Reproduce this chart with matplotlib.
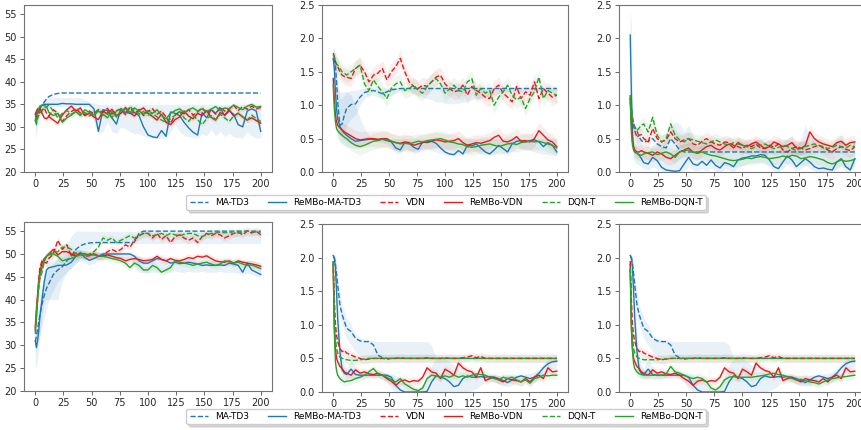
import numpy as np
import matplotlib
matplotlib.use("Agg")
import matplotlib.pyplot as plt

# shared x positions (episodes)
X = [0, 1, 2, 3, 4, 6, 8, 10] + list(range(12, 201, 4))

# ---------------- top-left ----------------
tl_mat_td3 = [32.5, 33.0, 33.3, 33.7, 34.0, 34.8, 35.5, 36.2,
              36.7, 37.2, 37.4] + [37.5] * 45
tl_rembo_mat_td3 = [31.3, 32.0, 33.0, 33.8, 34.3, 34.8, 35.0, 35.0,
                    35.0, 35.0, 35.0, 35.2, 35.1, 35.1, 35.0, 35.0,
                    35.0, 35.0, 34.0, 29.0, 33.8, 33.6, 32.0, 30.6,
                    34.0, 33.2, 33.0, 33.2, 32.5, 30.0, 28.2, 27.8,
                    27.6, 29.2, 27.9, 33.3, 33.0, 32.5, 31.0, 29.8,
                    28.8, 28.2, 33.2, 32.0, 33.8, 33.0, 34.2, 32.5,
                    33.5, 32.8, 30.5, 30.0, 33.5, 34.0, 33.5, 29.0]
tl_rembo_lo = [27.5, 28.5, 30.0, 31.5, 32.5, 33.5, 34.0, 34.2,
               34.3, 34.5, 34.5, 34.5, 34.5, 34.5, 34.5, 34.5,
               34.5, 34.5, 31.0, 28.5, 29.0, 31.0, 29.0, 28.5,
               30.0, 29.5, 29.0, 28.5, 28.5, 28.0, 27.6, 27.5,
               27.5, 27.5, 27.5, 29.0, 30.5, 29.0, 28.0, 27.8,
               27.6, 27.5, 28.5, 28.0, 29.5, 28.0, 29.0, 27.8,
               28.5, 27.8, 27.6, 27.5, 29.0, 28.0, 27.5, 27.5]
tl_rembo_hi = [33.0, 33.5, 34.0, 34.5, 35.0, 35.5, 36.0, 36.3,
               36.5, 36.5, 36.5, 36.5, 36.5, 36.5, 36.5, 36.5,
               36.0, 35.5, 35.2, 35.0, 35.0, 35.0, 35.0, 35.0] + [35.0] * 32
tl_vdn = [32.5, 32.0, 33.2, 33.5, 32.8, 33.6, 34.2, 33.0,
          32.4, 33.8, 33.0, 31.2, 32.5, 33.4, 34.0, 33.1,
          32.6, 33.5, 32.9, 33.8, 33.2, 34.1, 32.8, 33.6,
          33.9, 32.7, 34.3, 33.0, 33.8, 32.5, 33.4, 34.0,
          32.8, 33.5, 32.2, 30.8, 32.6, 33.4, 32.9, 33.8,
          32.6, 33.3, 34.2, 33.0, 33.9, 32.8, 34.4, 33.5,
          34.0, 34.8, 33.6, 34.5, 33.9, 34.6, 34.0, 34.3]
tl_rembo_vdn = [32.8, 33.5, 34.0, 33.2, 34.2, 33.0, 32.0, 31.8,
                32.3, 31.5, 30.8, 32.6, 33.8, 34.6, 33.5, 34.2,
                32.5, 33.0, 32.2, 31.6, 33.5, 32.8, 33.9, 32.5,
                33.0, 34.3, 33.1, 32.4, 33.6, 34.2, 33.0, 32.3,
                31.5, 32.8, 31.0, 30.5, 31.6, 32.2, 33.5, 32.4,
                31.8, 33.0, 32.5, 33.6, 32.1, 31.5, 33.2, 32.6,
                33.8, 32.4, 33.0, 32.2, 31.5, 32.0, 31.4, 30.8]
tl_dqn = [32.0, 31.0, 31.8, 32.5, 33.2, 33.8, 34.2, 34.5,
          34.8, 33.5, 32.0, 33.0, 33.6, 32.8, 33.4, 32.6,
          33.2, 32.4, 33.0, 33.8, 32.5, 33.2, 32.0, 33.5,
          34.0, 33.2, 34.5, 33.6, 32.8, 33.4, 32.6, 33.0,
          32.2, 31.5, 31.0, 31.8, 32.6, 33.4, 32.0, 31.2,
          32.5, 31.6, 30.5, 31.8, 32.5, 31.6, 32.8, 32.0,
          31.2, 32.4, 33.0, 32.2, 31.5, 32.6, 31.8, 31.2]
tl_rembo_dqn = [31.5, 30.5, 33.0, 34.0, 34.6, 34.8, 34.7, 34.5,
                33.2, 32.5, 33.0, 31.0, 32.0, 32.6, 33.4, 32.5,
                33.8, 33.2, 32.6, 33.5, 32.8, 32.0, 33.4, 32.2,
                33.6, 34.0, 33.2, 34.2, 33.5, 32.8, 33.6, 33.0,
                33.8, 32.5, 31.8, 33.0, 33.6, 34.0, 33.2, 33.8,
                34.2, 33.5, 34.0, 33.4, 33.9, 34.5, 33.6, 34.2,
                34.0, 34.8, 34.3, 33.8, 34.6, 35.0, 34.4, 34.5]

# ---------------- top-middle ----------------
tm_mat_td3 = [1.70, 1.68, 1.60, 1.35, 1.05, 0.70, 0.72, 0.85,
              0.95, 1.01, 1.02, 1.12, 1.19, 1.21, 1.22, 1.20,
              1.17, 1.20, 1.23, 1.24, 1.25] + [1.25] * 35
tm_mat_lo = [1.60, 1.50, 1.30, 1.00, 0.80, 0.55, 0.55, 0.60,
             0.70, 0.80, 0.85, 1.00, 1.10, 1.15, 1.15, 1.12,
             1.10, 1.12, 1.15, 1.18, 1.20, 1.20, 1.20, 1.18,
             1.15, 1.12, 1.10, 1.08, 1.05, 1.05, 1.03, 1.02,
             1.02, 1.03, 1.05, 1.05, 1.08, 1.10, 1.10, 1.12,
             1.15, 1.15, 1.18, 1.20, 1.20, 1.20, 1.20, 1.20] + [1.20] * 8
tm_mat_hi = [1.80, 1.80, 1.75, 1.60, 1.40, 1.10, 1.10, 1.15,
             1.20, 1.22, 1.22, 1.25, 1.25, 1.26, 1.26, 1.25] + [1.26] * 40
tm_rembo_mat_td3 = [1.70, 1.55, 1.20, 0.95, 0.80, 0.68, 0.62, 0.58,
                    0.55, 0.50, 0.46, 0.47, 0.48, 0.49, 0.49, 0.48,
                    0.49, 0.47, 0.45, 0.36, 0.33, 0.44, 0.43, 0.37,
                    0.34, 0.45, 0.44, 0.46, 0.43, 0.36, 0.30, 0.27,
                    0.26, 0.32, 0.27, 0.40, 0.39, 0.42, 0.36, 0.30,
                    0.27, 0.33, 0.40, 0.35, 0.30, 0.42, 0.46, 0.47,
                    0.45, 0.47, 0.48, 0.45, 0.38, 0.44, 0.40, 0.30]
tm_rembo_lo = [1.60, 1.30, 0.90, 0.70, 0.55, 0.45, 0.42, 0.40,
               0.38, 0.36, 0.35, 0.38, 0.42, 0.45, 0.46, 0.45,
               0.44, 0.42, 0.38, 0.28, 0.28, 0.35, 0.33, 0.30,
               0.30, 0.36, 0.35, 0.33, 0.30, 0.28, 0.26, 0.25,
               0.25, 0.25, 0.25, 0.30, 0.33, 0.30, 0.27, 0.26,
               0.25, 0.26, 0.30, 0.28, 0.26, 0.30, 0.35, 0.35,
               0.33, 0.32, 0.30, 0.28, 0.27, 0.26, 0.25, 0.25]
tm_rembo_hi = [1.80, 1.75, 1.60, 1.40, 1.25, 1.20, 1.20, 1.20,
               1.20, 1.15, 1.00, 0.80, 0.65, 0.55, 0.52, 0.50] + [0.50] * 40
tm_vdn = [1.78, 1.72, 1.65, 1.60, 1.58, 1.50, 1.45, 1.43,
          1.42, 1.40, 1.55, 1.60, 1.50, 1.35, 1.45, 1.48,
          1.55, 1.38, 1.50, 1.58, 1.70, 1.50, 1.35, 1.28,
          1.25, 1.30, 1.28, 1.35, 1.42, 1.45, 1.32, 1.25,
          1.20, 1.22, 1.30, 1.15, 1.28, 1.22, 1.18, 1.12,
          1.10, 1.25, 1.30, 1.18, 1.12, 1.05, 1.28, 1.10,
          1.20, 1.15, 1.35, 1.10, 1.25, 1.18, 1.12, 1.15]
tm_rembo_vdn = [1.40, 1.10, 0.85, 0.75, 0.70, 0.66, 0.63, 0.60,
                0.58, 0.54, 0.50, 0.48, 0.49, 0.50, 0.50, 0.49,
                0.50, 0.50, 0.46, 0.44, 0.43, 0.45, 0.44, 0.40,
                0.42, 0.44, 0.45, 0.46, 0.48, 0.47, 0.45, 0.46,
                0.47, 0.50, 0.44, 0.40, 0.42, 0.44, 0.43, 0.45,
                0.47, 0.52, 0.55, 0.46, 0.45, 0.48, 0.53, 0.46,
                0.47, 0.45, 0.50, 0.62, 0.55, 0.48, 0.45, 0.38]
tm_dqn = [1.75, 1.72, 1.68, 1.62, 1.60, 1.55, 1.50, 1.48,
          1.45, 1.50, 1.55, 1.60, 1.32, 1.22, 1.38, 1.28,
          1.20, 1.10, 1.25, 1.32, 1.35, 1.22, 1.25, 1.30,
          1.22, 1.18, 1.28, 1.35, 1.40, 1.32, 1.18, 1.24,
          1.30, 1.22, 1.20, 1.35, 1.40, 1.15, 1.25, 1.18,
          1.22, 1.00, 1.12, 1.20, 1.30, 1.15, 1.08, 1.12,
          0.95, 1.10, 1.20, 1.42, 1.10, 1.22, 1.18, 1.15]
tm_rembo_dqn = [1.30, 0.95, 0.75, 0.65, 0.62, 0.58, 0.55, 0.52,
                0.50, 0.44, 0.40, 0.38, 0.40, 0.43, 0.46, 0.47,
                0.49, 0.48, 0.46, 0.44, 0.42, 0.43, 0.42, 0.44,
                0.46, 0.45, 0.47, 0.48, 0.49, 0.50, 0.48, 0.45,
                0.44, 0.42, 0.41, 0.38, 0.37, 0.38, 0.40, 0.41,
                0.42, 0.40, 0.38, 0.40, 0.42, 0.43, 0.41, 0.44,
                0.45, 0.46, 0.45, 0.46, 0.44, 0.42, 0.40, 0.36]

# ---------------- top-right ----------------
tr_mat_td3 = [1.15, 0.95, 0.80, 0.72, 0.68, 0.62, 0.52, 0.47,
              0.45, 0.46, 0.50, 0.42, 0.38, 0.36, 0.50, 0.42,
              0.33, 0.30] + [0.30] * 38
tr_rembo_mat_td3 = [2.05, 1.20, 0.60, 0.35, 0.30, 0.28, 0.25, 0.20,
                    0.14, 0.12, 0.22, 0.17, 0.07, 0.03, 0.02, 0.01,
                    0.02, 0.12, 0.22, 0.12, 0.10, 0.16, 0.10, 0.18,
                    0.10, 0.06, 0.14, 0.12, 0.08, 0.18, 0.21, 0.22,
                    0.24, 0.24, 0.26, 0.25, 0.18, 0.08, 0.05, 0.15,
                    0.24, 0.18, 0.08, 0.14, 0.20, 0.15, 0.08, 0.05,
                    0.06, 0.04, 0.03, 0.15, 0.20, 0.08, 0.03, 0.20]
tr_rembo_lo = [1.70, 0.90, 0.40, 0.20, 0.15, 0.12, 0.10, 0.08,
               0.05, 0.03, 0.08, 0.05, 0.02, 0.00, 0.00, 0.00,
               0.00, 0.02, 0.08, 0.03, 0.02, 0.05, 0.02, 0.06,
               0.02, 0.00, 0.04, 0.03, 0.00, 0.06, 0.10, 0.12,
               0.14, 0.14, 0.15, 0.14, 0.08, 0.02, 0.00, 0.05,
               0.12, 0.08, 0.02, 0.05, 0.10, 0.05, 0.02, 0.00,
               0.00, 0.00, 0.00, 0.05, 0.10, 0.02, 0.00, 0.10]
tr_rembo_hi = [2.45, 2.20, 1.20, 0.70, 0.60, 0.55, 0.50, 0.45,
               0.35, 0.30, 0.40, 0.45, 0.40, 0.50, 0.65, 0.75,
               0.72, 0.60, 0.70, 0.55, 0.40, 0.50, 0.45, 0.50,
               0.40, 0.30, 0.45, 0.40, 0.35, 0.50, 0.45, 0.42,
               0.45, 0.48, 0.50, 0.45, 0.40, 0.35, 0.30, 0.45,
               0.50, 0.55, 0.40, 0.50, 0.70, 0.55, 0.45, 0.35,
               0.40, 0.30, 0.35, 0.50, 0.55, 0.40, 0.30, 0.50]
tr_vdn = [1.05, 0.90, 0.78, 0.70, 0.62, 0.52, 0.55, 0.56,
          0.50, 0.45, 0.65, 0.50, 0.45, 0.48, 0.60, 0.50,
          0.45, 0.48, 0.50, 0.42, 0.40, 0.46, 0.50, 0.45,
          0.42, 0.40, 0.45, 0.44, 0.40, 0.38, 0.35, 0.40,
          0.38, 0.42, 0.36, 0.35, 0.40, 0.37, 0.42, 0.33,
          0.30, 0.35, 0.38, 0.36, 0.33, 0.35, 0.38, 0.40,
          0.36, 0.33, 0.30, 0.35, 0.38, 0.34, 0.32, 0.38]
tr_rembo_vdn = [1.10, 0.70, 0.45, 0.38, 0.33, 0.30, 0.30, 0.32,
                0.30, 0.28, 0.25, 0.30, 0.27, 0.22, 0.20, 0.25,
                0.30, 0.33, 0.36, 0.30, 0.28, 0.33, 0.38, 0.40,
                0.35, 0.33, 0.38, 0.42, 0.36, 0.44, 0.40, 0.38,
                0.42, 0.45, 0.40, 0.35, 0.38, 0.45, 0.42, 0.38,
                0.40, 0.44, 0.36, 0.35, 0.40, 0.60, 0.50, 0.45,
                0.42, 0.40, 0.38, 0.44, 0.46, 0.40, 0.44, 0.45]
tr_dqn = [1.15, 0.95, 0.80, 0.70, 0.65, 0.62, 0.66, 0.70,
          0.72, 0.60, 0.82, 0.55, 0.45, 0.50, 0.72, 0.55,
          0.48, 0.45, 0.50, 0.48, 0.46, 0.44, 0.42, 0.45,
          0.48, 0.45, 0.42, 0.40, 0.44, 0.42, 0.40, 0.38,
          0.35, 0.38, 0.40, 0.42, 0.38, 0.35, 0.37, 0.40,
          0.38, 0.35, 0.32, 0.36, 0.38, 0.40, 0.42, 0.40,
          0.38, 0.35, 0.37, 0.40, 0.38, 0.36, 0.40, 0.38]
tr_rembo_dqn = [1.10, 0.60, 0.40, 0.33, 0.30, 0.28, 0.26, 0.25,
                0.27, 0.29, 0.30, 0.26, 0.28, 0.30, 0.27, 0.22,
                0.30, 0.32, 0.33, 0.30, 0.28, 0.30, 0.27, 0.25,
                0.24, 0.22, 0.20, 0.18, 0.17, 0.18, 0.19, 0.21,
                0.20, 0.22, 0.23, 0.22, 0.20, 0.21, 0.22, 0.24,
                0.22, 0.25, 0.24, 0.20, 0.21, 0.23, 0.22, 0.20,
                0.18, 0.14, 0.12, 0.15, 0.18, 0.16, 0.17, 0.19]

# ---------------- bottom-left ----------------
bl_mat_td3 = [30.8, 32.0, 33.5, 35.0, 36.5, 39.0, 41.0, 42.5,
              43.5, 45.5, 46.5, 47.2, 48.5, 49.5, 51.0, 51.8,
              52.2, 52.4, 52.5, 52.5, 52.5, 52.5, 52.5, 52.5,
              52.5, 52.5, 52.5, 52.6, 54.5, 55.0, 55.0, 55.0] + [55.0] * 24
bl_mat_lo = [28.0, 29.0, 30.0, 31.0, 32.0, 34.0, 36.0, 38.0,
             40.0, 42.0, 44.0, 45.0, 46.0, 47.0, 48.0, 49.0,
             50.0, 51.0, 52.0, 52.3] + [52.3] * 36
bl_mat_hi = [33.0, 35.0, 37.0, 39.0, 41.0, 43.0, 45.0, 46.0,
             47.0, 48.0, 49.0, 50.0, 52.0, 54.0, 55.0, 55.0] + [55.0] * 40
bl_rembo_mat_td3 = [31.0, 29.5, 31.0, 33.0, 36.0, 40.0, 44.0, 46.5,
                    47.0, 47.2, 47.5, 47.5, 47.6, 48.2, 49.5, 50.3,
                    49.2, 48.6, 49.0, 49.5, 50.0, 50.0, 50.0, 50.0,
                    50.0, 50.0, 50.0, 49.5, 48.5, 48.0, 48.0, 48.5,
                    49.0, 48.8, 48.5, 48.0, 48.2, 47.9, 48.0, 48.2,
                    48.0, 47.8, 47.5, 47.6, 47.5, 47.5, 47.6, 47.5,
                    48.0, 47.8, 47.5, 46.0, 48.0, 46.5, 46.0, 45.5]
bl_rembo_lo = [25.5, 25.0, 27.0, 29.0, 32.0, 36.0, 40.0, 40.0,
               40.0, 40.0, 40.0, 44.0, 46.0, 47.0, 48.0, 48.5,
               48.0, 47.5, 48.0, 48.5, 49.0, 49.0, 49.0, 49.0,
               49.0, 49.0, 49.0, 47.0, 46.0, 46.0, 46.0, 46.0,
               46.0, 46.2, 46.0, 46.0, 46.3, 46.0, 46.0, 46.2,
               46.0, 46.0, 46.2, 46.0, 46.0, 46.0, 46.2, 46.0,
               46.0, 46.0, 45.8, 45.5, 45.8, 45.5, 45.2, 45.0]
bl_rembo_hi = [34.0, 33.0, 34.0, 36.0, 39.0, 43.0, 46.0, 48.0,
               48.5, 48.5, 49.0, 49.5, 50.0, 50.5, 51.0, 51.0,
               50.5, 50.0, 50.2, 50.5, 50.5, 50.5, 50.5, 50.5,
               50.5, 50.5, 50.5, 50.0, 49.5, 49.2, 49.2, 49.5,
               49.5, 49.5, 49.3, 49.0, 49.0, 48.8, 48.8, 49.0,
               48.8, 48.6, 48.5, 48.5, 48.5, 48.5, 48.5, 48.5,
               48.6, 48.6, 48.5, 48.5, 48.6, 48.5, 48.3, 48.0]
bl_vdn = [33.0, 36.0, 40.0, 44.0, 47.0, 48.5, 48.2, 48.0,
          49.0, 50.0, 53.0, 51.0, 52.0, 49.5, 50.2, 50.0,
          49.5, 49.6, 50.0, 49.5, 49.6, 50.5, 51.0, 50.5,
          51.0, 52.0, 51.5, 53.0, 54.0, 54.5, 54.5, 53.5,
          54.5, 53.2, 54.0, 52.5, 53.8, 54.2, 53.5, 53.0,
          53.5, 52.5, 53.8, 54.5, 54.0, 54.5, 54.2, 53.5,
          54.0, 54.5, 54.8, 54.2, 55.0, 54.6, 55.0, 54.2]
bl_rembo_vdn = [34.0, 38.0, 41.0, 44.0, 46.0, 48.0, 49.0, 49.5,
                50.0, 51.0, 49.8, 50.5, 50.5, 50.0, 49.5, 50.0,
                50.0, 49.8, 50.0, 49.6, 49.5, 49.8, 49.5, 49.2,
                49.0, 48.5, 48.8, 49.0, 48.8, 48.5, 48.6, 48.8,
                49.5, 48.8, 48.5, 49.0, 48.6, 48.5, 48.8, 49.2,
                49.0, 49.5, 49.3, 49.6, 49.0, 48.5, 48.3, 48.2,
                48.5, 48.0, 48.5, 48.2, 48.0, 47.8, 47.6, 47.3]
bl_dqn = [32.5, 36.0, 39.5, 42.0, 44.5, 46.0, 48.5, 49.5,
          50.0, 50.3, 50.5, 51.5, 51.5, 51.0, 50.0, 50.0,
          49.5, 50.0, 50.5, 51.5, 53.5, 53.0, 53.5, 52.5,
          53.0, 53.5, 54.0, 53.5, 54.0, 54.5, 54.5, 54.0,
          54.2, 54.5, 54.0, 54.5, 54.2, 54.0, 54.3, 54.5,
          54.5, 54.0, 53.8, 54.2, 54.5, 54.6, 54.8, 54.6,
          54.8, 54.5, 54.6, 54.8, 55.0, 54.9, 54.8, 54.8]
bl_rembo_dqn = [33.5, 37.0, 40.0, 43.0, 45.0, 47.0, 48.5, 49.5,
                49.8, 50.0, 49.5, 48.5, 48.8, 49.0, 49.5, 49.8,
                49.8, 49.7, 49.8, 49.6, 49.5, 49.3, 49.0, 48.8,
                48.5, 48.0, 47.0, 48.0, 47.5, 46.5, 46.5, 47.5,
                47.0, 46.0, 46.5, 47.0, 48.5, 48.2, 48.0, 47.8,
                47.5, 47.8, 48.0, 48.2, 47.8, 47.5, 47.8, 48.5,
                48.3, 48.0, 48.2, 47.8, 47.5, 47.6, 47.2, 46.8]

# ---------------- bottom-middle / bottom-right (blue and red shared) ----------------
b_mat_td3 = [2.00, 2.00, 1.90, 1.75, 1.60, 1.30, 1.15, 1.05,
             0.95, 0.90, 0.80, 0.76, 0.75, 0.75, 0.70, 0.55,
             0.51, 0.50] + [0.50] * 38
b_mat_lo = [1.95, 1.95, 1.80, 1.60, 1.45, 1.10, 1.00, 0.90,
            0.80, 0.70, 0.60, 0.55, 0.50, 0.50, 0.50, 0.50] + [0.50] * 40
b_mat_hi = [2.05, 2.05, 2.00, 1.90, 1.70, 1.50, 1.30, 1.20,
            1.10, 1.00, 0.85, 0.80, 0.78, 0.78, 0.76, 0.75,
            0.75, 0.75, 0.75, 0.75, 0.75, 0.75, 0.75, 0.75,
            0.75, 0.75, 0.75, 0.70, 0.50, 0.50, 0.50, 0.50] + [0.50] * 24
b_rembo_mat_td3 = [2.03, 2.00, 1.85, 1.50, 1.10, 0.60, 0.33, 0.28,
                   0.26, 0.34, 0.26, 0.25, 0.25, 0.25, 0.25, 0.25,
                   0.25, 0.25, 0.22, 0.10, 0.03, 0.00, 0.00, 0.00,
                   0.00, 0.00, 0.01, 0.15, 0.24, 0.22, 0.20, 0.15,
                   0.08, 0.10, 0.20, 0.24, 0.22, 0.22, 0.23, 0.22,
                   0.23, 0.22, 0.20, 0.17, 0.14, 0.18, 0.22, 0.24,
                   0.22, 0.20, 0.22, 0.28, 0.36, 0.42, 0.45, 0.46]
b_rembo_lo = [1.95, 1.90, 1.60, 1.10, 0.70, 0.35, 0.22, 0.20,
              0.20, 0.22, 0.20, 0.20, 0.20, 0.22, 0.22, 0.22,
              0.20, 0.15, 0.05, 0.00, 0.00, 0.00, 0.00, 0.00,
              0.00, 0.00, 0.00, 0.00, 0.00, 0.00, 0.00, 0.00,
              0.00, 0.00, 0.00, 0.00, 0.02, 0.05, 0.10, 0.15,
              0.18, 0.15, 0.12, 0.10, 0.08, 0.10, 0.15, 0.18,
              0.18, 0.15, 0.15, 0.20, 0.25, 0.30, 0.35, 0.38]
b_rembo_hi = [2.10, 2.05, 2.00, 1.80, 1.50, 0.90, 0.50, 0.40,
              0.35, 0.50, 0.35, 0.30, 0.28, 0.28, 0.28, 0.28,
              0.28, 0.28, 0.27, 0.25, 0.20, 0.15, 0.10, 0.05,
              0.05, 0.10, 0.25, 0.40, 0.50, 0.50, 0.50, 0.45,
              0.40, 0.35, 0.30, 0.28, 0.26, 0.25, 0.25, 0.25,
              0.25, 0.25, 0.25, 0.25, 0.25, 0.25, 0.26, 0.27,
              0.27, 0.28, 0.30, 0.35, 0.42, 0.48, 0.50, 0.50]
b_vdn = [1.95, 1.40, 1.00, 0.85, 0.75, 0.65, 0.60, 0.62,
         0.58, 0.55, 0.52, 0.50, 0.48, 0.49, 0.50, 0.50,
         0.50, 0.49, 0.50, 0.50, 0.51, 0.50, 0.50, 0.50,
         0.50, 0.50, 0.51, 0.50, 0.50, 0.50, 0.51, 0.50,
         0.50, 0.50, 0.51, 0.52, 0.54, 0.51, 0.53, 0.50] + [0.50] * 16
b_rembo_vdn = [1.90, 1.00, 0.65, 0.50, 0.45, 0.38, 0.35, 0.30,
               0.28, 0.25, 0.33, 0.28, 0.30, 0.27, 0.26, 0.28,
               0.25, 0.20, 0.16, 0.10, 0.16, 0.18, 0.15, 0.17,
               0.16, 0.22, 0.36, 0.30, 0.28, 0.20, 0.34, 0.30,
               0.25, 0.43, 0.36, 0.32, 0.30, 0.22, 0.36, 0.17,
               0.20, 0.22, 0.18, 0.15, 0.20, 0.18, 0.17, 0.15,
               0.20, 0.15, 0.22, 0.25, 0.20, 0.36, 0.30, 0.31]
bm_dqn = [1.95, 1.20, 0.80, 0.65, 0.58, 0.52, 0.50, 0.49,
          0.48, 0.47, 0.47, 0.48, 0.49, 0.50, 0.50, 0.50] + [0.50] * 40
bm_rembo_dqn = [1.90, 0.90, 0.45, 0.32, 0.25, 0.20, 0.17, 0.15,
                0.16, 0.17, 0.20, 0.22, 0.25, 0.30, 0.35, 0.27,
                0.25, 0.22, 0.18, 0.15, 0.20, 0.12, 0.08, 0.04,
                0.02, 0.06, 0.20, 0.25, 0.24, 0.22, 0.24, 0.22,
                0.25, 0.22, 0.24, 0.22, 0.25, 0.27, 0.26, 0.25,
                0.22, 0.20, 0.18, 0.22, 0.20, 0.22, 0.18, 0.15,
                0.18, 0.13, 0.20, 0.22, 0.25, 0.24, 0.25, 0.25]
br_dqn = [1.85, 1.10, 0.80, 0.65, 0.58, 0.52, 0.50, 0.49,
          0.48, 0.48, 0.48, 0.48, 0.49, 0.49, 0.50, 0.50] + [0.50] * 40
br_rembo_dqn = [1.80, 0.95, 0.60, 0.42, 0.35, 0.30, 0.27, 0.26,
                0.25, 0.25, 0.25, 0.25, 0.25, 0.27, 0.38, 0.30,
                0.28, 0.25, 0.22, 0.20, 0.22, 0.20, 0.15, 0.06,
                0.03, 0.08, 0.18, 0.22, 0.23, 0.22, 0.22, 0.22,
                0.22, 0.23, 0.24, 0.25, 0.27, 0.28, 0.26, 0.25,
                0.23, 0.20, 0.18, 0.19, 0.17, 0.15, 0.14, 0.12,
                0.15, 0.18, 0.20, 0.21, 0.22, 0.23, 0.24, 0.25]

labels = ['MA-TD3', 'ReMBo-MA-TD3', 'VDN', 'ReMBo-VDN', 'DQN-T', 'ReMBo-DQN-T']
BLUE, RED, GREEN = '#1f77b4', '#e41a1c', '#2ca02c'

# one dict per panel: series, blue bands, half width of red/green bands, y limits
panels = [
    dict(pos=[24, 5, 248, 167], ylim=(20, 57), ticks=[20, 25, 30, 35, 40, 45, 50, 55], hw=0.6,
         data=[tl_mat_td3, tl_rembo_mat_td3, tl_vdn, tl_rembo_vdn, tl_dqn, tl_rembo_dqn],
         mat_band=None, rembo_band=(tl_rembo_lo, tl_rembo_hi)),
    dict(pos=[322, 5, 246, 167], ylim=(0, 2.5), ticks=[0, 0.5, 1.0, 1.5, 2.0, 2.5], hw=0.12,
         data=[tm_mat_td3, tm_rembo_mat_td3, tm_vdn, tm_rembo_vdn, tm_dqn, tm_rembo_dqn],
         mat_band=(tm_mat_lo, tm_mat_hi), rembo_band=(tm_rembo_lo, tm_rembo_hi)),
    dict(pos=[619, 5, 247, 167], ylim=(0, 2.5), ticks=[0, 0.5, 1.0, 1.5, 2.0, 2.5], hw=0.1,
         data=[tr_mat_td3, tr_rembo_mat_td3, tr_vdn, tr_rembo_vdn, tr_dqn, tr_rembo_dqn],
         mat_band=None, rembo_band=(tr_rembo_lo, tr_rembo_hi)),
    dict(pos=[24, 222, 248, 169], ylim=(20, 57), ticks=[20, 25, 30, 35, 40, 45, 50, 55], hw=0.8,
         data=[bl_mat_td3, bl_rembo_mat_td3, bl_vdn, bl_rembo_vdn, bl_dqn, bl_rembo_dqn],
         mat_band=(bl_mat_lo, bl_mat_hi), rembo_band=(bl_rembo_lo, bl_rembo_hi)),
    dict(pos=[322, 224, 246, 168], ylim=(0, 2.5), ticks=[0, 0.5, 1.0, 1.5, 2.0, 2.5], hw=0.06,
         data=[b_mat_td3, b_rembo_mat_td3, b_vdn, b_rembo_vdn, bm_dqn, bm_rembo_dqn],
         mat_band=(b_mat_lo, b_mat_hi), rembo_band=(b_rembo_lo, b_rembo_hi)),
    dict(pos=[619, 224, 247, 168], ylim=(0, 2.5), ticks=[0, 0.5, 1.0, 1.5, 2.0, 2.5], hw=0.06,
         data=[b_mat_td3, b_rembo_mat_td3, b_vdn, b_rembo_vdn, br_dqn, br_rembo_dqn],
         mat_band=(b_mat_lo, b_mat_hi), rembo_band=(b_rembo_lo, b_rembo_hi)),
]

W, H = 862, 430
fig = plt.figure(figsize=(W / 100, H / 100), dpi=100)
x = np.array(X)
colors = [BLUE, BLUE, RED, RED, GREEN, GREEN]
styles = ['--', '-', '--', '-', '--', '-']

for p in panels:
    l, t, w, h = p['pos']
    ax = fig.add_axes([l / W, 1 - (t + h) / H, w / W, h / H])
    # shaded bands
    for band in (p['mat_band'], p['rembo_band']):
        if band is not None:
            ax.fill_between(x, band[0], band[1], color=BLUE, alpha=0.1, lw=0)
    for i in range(2, 6):
        y = np.array(p['data'][i])
        ax.fill_between(x, y - p['hw'], y + p['hw'], color=colors[i], alpha=0.08, lw=0)
    handles = []
    for i in range(6):
        ln, = ax.plot(x, p['data'][i], color=colors[i], ls=styles[i], lw=1.0, label=labels[i])
        handles.append(ln)
    ax.set_xlim(-10, 210)
    ax.set_ylim(*p['ylim'])
    ax.set_yticks(p['ticks'])
    ax.set_xticks([0, 25, 50, 75, 100, 125, 150, 175, 200])
    ax.tick_params(labelsize=7, length=3, width=0.6, color='0.3', labelcolor='0.15', pad=2)
    for s in ax.spines.values():
        s.set_color('0.45')
        s.set_linewidth(0.8)

for yc in (202.5, 416.5):
    fig.legend(handles, labels, loc='center', bbox_to_anchor=(446 / W, 1 - yc / H),
               ncol=6, fontsize=6.5, shadow={'color': '0.6', 'alpha': 0.35},
               frameon=True, fancybox=True, borderpad=0.35, handlelength=2.0,
               columnspacing=2.1, edgecolor='0.8')

fig.savefig('out.png', dpi=100)
